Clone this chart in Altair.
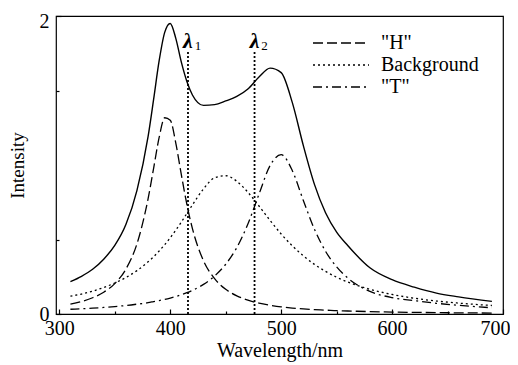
import altair as alt
import pandas as pd

# ---- data ----
wavelength = [310, 320, 330, 340, 350, 360, 370, 380, 385, 390, 395, 400, 405, 410, 415, 420,
              430, 440, 450, 460, 470, 480, 490, 500, 510, 520, 530, 540, 550, 560, 580, 600,
              620, 640, 660, 690]
h_vals = [0.067, 0.084, 0.109, 0.146, 0.204, 0.301, 0.471, 0.773, 0.978, 1.185, 1.317, 1.301,
          1.147, 0.935, 0.735, 0.573, 0.357, 0.237, 0.166, 0.122, 0.093, 0.073, 0.059, 0.048,
          0.040, 0.034, 0.029, 0.026, 0.022, 0.020, 0.016, 0.013, 0.011, 0.009, 0.008, 0.006]
bg_vals = [0.120, 0.134, 0.153, 0.178, 0.208, 0.245, 0.291, 0.350, 0.384, 0.423, 0.465, 0.512,
           0.563, 0.617, 0.675, 0.732, 0.840, 0.914, 0.928, 0.891, 0.817, 0.725, 0.628, 0.537,
           0.458, 0.390, 0.333, 0.286, 0.247, 0.215, 0.166, 0.131, 0.106, 0.087, 0.073, 0.057]
t_vals = [0.032, 0.035, 0.039, 0.044, 0.050, 0.057, 0.066, 0.076, 0.083, 0.090, 0.098, 0.107,
          0.117, 0.129, 0.143, 0.159, 0.199, 0.255, 0.334, 0.446, 0.604, 0.804, 0.996, 1.069,
          0.963, 0.762, 0.569, 0.421, 0.316, 0.242, 0.152, 0.110, 0.090, 0.072, 0.058, 0.042]
total_vals = [0.217, 0.253, 0.300, 0.368, 0.460, 0.600, 0.830, 1.190, 1.440, 1.700, 1.890, 1.950,
              1.850, 1.690, 1.560, 1.470, 1.400, 1.405, 1.430, 1.460, 1.510, 1.590, 1.650, 1.620,
              1.420, 1.130, 0.870, 0.680, 0.550, 0.460, 0.310, 0.230, 0.180, 0.140, 0.115, 0.085]
series_names = ['"H"', 'Background', '"T"']
lambda_pos = [416, 476]
lambda_sub = ["1", "2"]
lambda_top = 1.76
lambda_label_y = 1.83
x_major = [300, 400, 500, 600, 700]
x_minor = [350, 450, 550, 650]
y_major = [0, 1, 2]
y_minor = [0.5, 1.5]

total_df = pd.DataFrame({"wl": wavelength, "val": total_vals})
comp_df = pd.concat(
    [pd.DataFrame({"wl": wavelength, "val": v, "series": n})
     for n, v in zip(series_names, [h_vals, bg_vals, t_vals])],
    ignore_index=True)
lam_df = pd.DataFrame({"wl": lambda_pos, "base": [0, 0], "top": [lambda_top] * 2,
                       "ly": [lambda_label_y] * 2, "sub": lambda_sub})

serif = "Liberation Serif"
xscale = alt.Scale(domain=[297, 700], nice=False, zero=False)
yscale = alt.Scale(domain=[0, 2], nice=False)

x_axis = alt.Axis(values=x_major, format="d", tickSize=5, offset=-5, domain=False, grid=False,
                  labelPadding=4, labelFont=serif, labelFontSize=20, labelColor="black",
                  labelFlush=False, tickColor="black", tickWidth=1.2, orient="bottom",
                  labelOffset=alt.condition("datum.value == 700", alt.value(-8), alt.value(0)),
                  title="Wavelength/nm", titleFont=serif, titleFontSize=20,
                  titleFontWeight="normal", titleColor="black", titleX=223.5, titleY=41,
                  titleBaseline="middle", titleAlign="center")
y_axis = alt.Axis(values=y_major, format="d", tickSize=5, offset=-5, domain=False, grid=False,
                  labelPadding=7, labelFont=serif, labelFontSize=20, labelColor="black",
                  labelFlush=False, tickColor="black", tickWidth=1.2, orient="left",
                  labelOffset=alt.condition("datum.value == 2", alt.value(5), alt.value(0)),
                  title="Intensity", titleFont=serif, titleFontSize=19,
                  titleFontWeight="normal", titleColor="black", titleX=-44, titleY=149,
                  titleAngle=270, titleBaseline="middle", titleAlign="center")
x_minor_axis = alt.Axis(values=x_minor, labels=False, tickSize=3, offset=-3, domain=False,
                        grid=False, tickColor="black", tickWidth=1.2, orient="bottom", title=None)
y_minor_axis = alt.Axis(values=y_minor, labels=False, tickSize=3, offset=-3, domain=False,
                        grid=False, tickColor="black", tickWidth=1.2, orient="left", title=None)

total = alt.Chart(total_df).mark_line(color="black", strokeWidth=1.4, interpolate="monotone").encode(
    x=alt.X("wl:Q", scale=xscale, axis=x_axis),
    y=alt.Y("val:Q", scale=yscale, axis=y_axis),
)

minor = alt.Chart(total_df).mark_point(opacity=0).encode(
    x=alt.X("wl:Q", scale=xscale, axis=x_minor_axis),
    y=alt.Y("val:Q", scale=yscale, axis=y_minor_axis),
)

comps = alt.Chart(comp_df).mark_line(color="black", strokeWidth=1.3, interpolate="monotone").encode(
    x=alt.X("wl:Q", scale=xscale, axis=None),
    y=alt.Y("val:Q", scale=yscale, axis=None),
    strokeDash=alt.StrokeDash(
        "series:N",
        scale=alt.Scale(domain=series_names, range=[[10, 4], [2, 3], [9, 4, 2, 4]]),
        legend=alt.Legend(title=None, orient="none", legendX=256, legendY=19,
                          symbolType="stroke", symbolSize=3136, symbolStrokeWidth=1.3,
                          symbolStrokeColor="black", clipHeight=16, labelOffset=11,
                          labelFont=serif, labelFontSize=20, labelColor="black",
                          rowPadding=2, padding=0, labelLimit=200),
    ),
    detail="series:N",
)

rules = alt.Chart(lam_df).mark_rule(color="black", strokeWidth=1.8, strokeDash=[2, 2]).encode(
    x=alt.X("wl:Q", scale=xscale, axis=None),
    y=alt.Y("base:Q", scale=yscale, axis=None),
    y2="top:Q",
)

lam_text = alt.Chart(lam_df).mark_text(font=serif, fontSize=22, fontStyle="italic",
                                        fontWeight="bold", baseline="middle", align="center",
                                        color="black").encode(
    x=alt.X("wl:Q", scale=xscale, axis=None),
    y=alt.Y("ly:Q", scale=yscale, axis=None),
    text=alt.value("λ"),
)
sub_text = alt.Chart(lam_df).mark_text(font=serif, fontSize=13, baseline="middle", align="center",
                                        dx=10, dy=5, color="black").encode(
    x=alt.X("wl:Q", scale=xscale, axis=None),
    y=alt.Y("ly:Q", scale=yscale, axis=None),
    text="sub:N",
)

chart = alt.layer(total, minor, comps, rules, lam_text, sub_text).resolve_axis(
    x="independent", y="independent"
).properties(
    width=447, height=298,
    autosize=alt.AutoSizeParams(type="none"),
    padding={"left": 48, "top": 8, "right": 7, "bottom": 52},
    background="white",
).configure_view(stroke="black", strokeWidth=1.2)

chart.save("out.html", embed_options={"renderer": "svg", "actions": False})
